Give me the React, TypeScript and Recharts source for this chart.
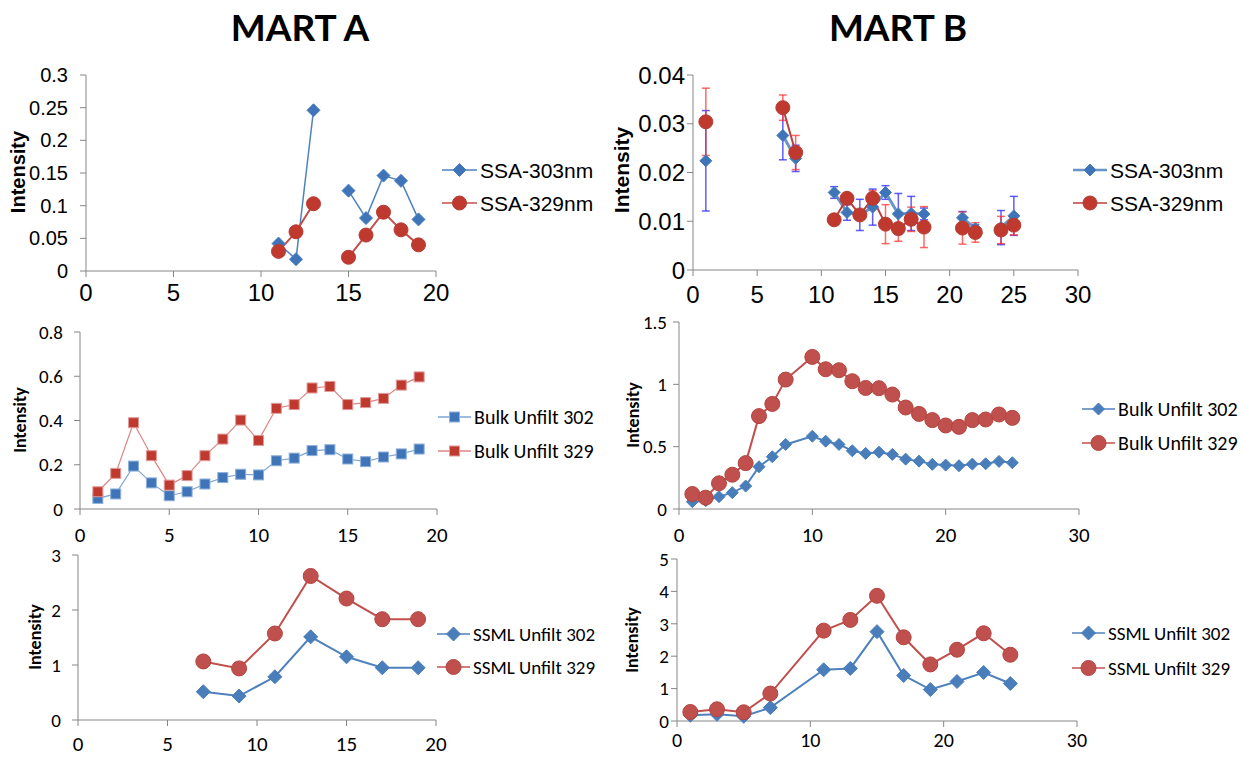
import React from 'react';
import { LineChart, Line, XAxis, YAxis, ErrorBar } from 'recharts';

const BLUE = '#4F81BD';
const RED = '#C0504D';
const AXIS = '#868686';
const ARIAL = '"Liberation Sans", Arial, sans-serif';
const CALI = 'Carlito, Calibri, Lato, sans-serif';

// MART A - SSA (null = gap in the line)
const ssaAX = [11, 12, 13, 14, 15, 16, 17, 18, 19];
const ssaA303 = [0.042, 0.018, 0.246, null, 0.123, 0.081, 0.146, 0.138, 0.079];
const ssaA329 = [0.03, 0.06, 0.103, null, 0.021, 0.055, 0.09, 0.063, 0.04];

// MART B - SSA with error bars
const ssaBX = [1, 4, 7, 8, 9, 11, 12, 13, 14, 15, 16, 17, 18, 19, 21, 22, 23, 24, 25];
const ssaB303 = [0.0224, null, 0.0276, 0.0229, null, 0.0159, 0.0118, 0.0113, 0.0129, 0.0159, 0.0115, 0.0116, 0.0115, null, 0.0107, 0.0085, null, 0.0087, 0.0111];
const ssaB303Err = [0.0103, null, 0.005, 0.0027, null, 0.0012, 0.0016, 0.0032, 0.0037, 0.0014, 0.0042, 0.0035, 0.0012, null, 0.0013, 0.0008, null, 0.0035, 0.004];
const ssaB329 = [0.0304, null, 0.0333, 0.0241, null, 0.0103, 0.0147, 0.0113, 0.0147, 0.0094, 0.0085, 0.0104, 0.0088, null, 0.0086, 0.0077, null, 0.0082, 0.0092];
const ssaB329Err = [0.0069, null, 0.0026, 0.0035, null, 0, 0.0005, 0.0005, 0.0016, 0.004, 0.0026, 0.0025, 0.0042, null, 0.0033, 0.002, null, 0.0028, 0.002];

// MART A - Bulk
const bulkAX = [1, 2, 3, 4, 5, 6, 7, 8, 9, 10, 11, 12, 13, 14, 15, 16, 17, 18, 19];
const bulkA302 = [0.048, 0.068, 0.194, 0.118, 0.06, 0.078, 0.113, 0.142, 0.157, 0.154, 0.218, 0.23, 0.264, 0.268, 0.226, 0.214, 0.235, 0.249, 0.271];
const bulkA329 = [0.078, 0.161, 0.39, 0.241, 0.108, 0.151, 0.241, 0.316, 0.402, 0.31, 0.455, 0.472, 0.547, 0.554, 0.472, 0.481, 0.5, 0.56, 0.597];

// MART B - Bulk
const bulkBX = [1, 2, 3, 4, 5, 6, 7, 8, 10, 11, 12, 13, 14, 15, 16, 17, 18, 19, 20, 21, 22, 23, 24, 25];
const bulkB302 = [0.059, 0.067, 0.099, 0.131, 0.184, 0.339, 0.419, 0.518, 0.584, 0.544, 0.518, 0.467, 0.446, 0.456, 0.438, 0.4, 0.384, 0.358, 0.352, 0.347, 0.36, 0.363, 0.382, 0.371];
const bulkB329 = [0.12, 0.091, 0.206, 0.275, 0.368, 0.745, 0.843, 1.038, 1.22, 1.121, 1.113, 1.025, 0.971, 0.969, 0.918, 0.814, 0.763, 0.713, 0.67, 0.659, 0.713, 0.718, 0.758, 0.731];

// MART A - SSML
const ssmlAX = [7, 9, 11, 13, 15, 17, 19];
const ssmlA302 = [0.514, 0.436, 0.786, 1.512, 1.149, 0.95, 0.95];
const ssmlA329 = [1.065, 0.938, 1.573, 2.619, 2.208, 1.833, 1.833];

// MART B - SSML
const ssmlBX = [1, 3, 5, 7, 11, 13, 15, 17, 19, 21, 23, 25];
const ssmlB302 = [0.176, 0.207, 0.145, 0.413, 1.581, 1.622, 2.758, 1.405, 0.971, 1.219, 1.498, 1.157];
const ssmlB329 = [0.279, 0.362, 0.269, 0.847, 2.789, 3.12, 3.864, 2.583, 1.746, 2.2, 2.707, 2.045];

// axis ticks
const ticksX20 = [0, 5, 10, 15, 20];
const ticksX30 = [0, 5, 10, 15, 20, 25, 30];
const ticksX30b = [0, 10, 20, 30];
const ticksSsaA = [0, 0.05, 0.1, 0.15, 0.2, 0.25, 0.3];
const ticksSsaB = [0, 0.01, 0.02, 0.03, 0.04];
const ticksBulkA = [0, 0.2, 0.4, 0.6, 0.8];
const ticksBulkB = [0, 0.5, 1, 1.5];
const ticksSsmlA = [0, 1, 2, 3];
const ticksSsmlB = [0, 1, 2, 3, 4, 5];

const legendSsa = ['SSA-303nm', 'SSA-329nm'];
const legendBulk = ['Bulk Unfilt 302', 'Bulk Unfilt 329'];
const legendSsml = ['SSML Unfilt 302', 'SSML Unfilt 329'];

type Shape = 'diamond' | 'circle' | 'square';

interface Series {
  key: string;
  errKey?: string;
  errColor?: string;
  lineColor: string;
  lineWidth: number;
  fill: string;
  stroke: string;
  shape: Shape;
  size: number;
}

const Marker = ({ shape, x, y, size, fill, stroke }: any) => {
  if (shape === 'circle') return <circle cx={x} cy={y} r={size} fill={fill} stroke={stroke} strokeWidth={1} />;
  if (shape === 'square')
    return <rect x={x - size} y={y - size} width={size * 2} height={size * 2} fill={fill} stroke={stroke} strokeWidth={1} />;
  return (
    <path d={`M${x},${y - size}L${x + size},${y}L${x},${y + size}L${x - size},${y}Z`} fill={fill} stroke={stroke} strokeWidth={1} />
  );
};

const dotOf = (s: Series) => (p: any) => {
  const { cx, cy, index, value } = p;
  if (cx == null || cy == null || value == null || !isFinite(cy)) return <g key={`${s.key}-${index}`} />;
  return <Marker key={`${s.key}-${index}`} shape={s.shape} x={cx} y={cy} size={s.size} fill={s.fill} stroke={s.stroke} />;
};

interface PanelProps {
  left: number;
  top: number;
  width: number;
  height: number;
  margin: { top: number; right: number; bottom: number; left: number };
  yWidth: number;
  xHeight: number;
  data: any[];
  xMax: number;
  xTicks: number[];
  yTicks: number[];
  font: string;
  xFont: number;
  yFont: number;
  xGap: number;
  yGap: number;
  series: Series[];
}

const Panel = (p: PanelProps) => (
  <div style={{ position: 'absolute', left: p.left, top: p.top }}>
    <LineChart width={p.width} height={p.height} data={p.data} margin={p.margin}>
      <XAxis
        dataKey="x"
        type="number"
        domain={[0, p.xMax]}
        ticks={p.xTicks}
        interval={0}
        height={p.xHeight}
        stroke={AXIS}
        tickSize={6}
        tickMargin={p.xGap}
        tick={{ fill: '#000', fontSize: p.xFont, fontFamily: p.font }}
      />
      <YAxis
        type="number"
        domain={[p.yTicks[0], p.yTicks[p.yTicks.length - 1]]}
        ticks={p.yTicks}
        interval={0}
        width={p.yWidth}
        stroke={AXIS}
        tickSize={6}
        tickMargin={p.yGap}
        tick={{ fill: '#000', fontSize: p.yFont, fontFamily: p.font }}
      />
      {p.series.map((s) => (
        <Line
          key={s.key}
          dataKey={s.key}
          stroke={s.lineColor}
          strokeWidth={s.lineWidth}
          dot={dotOf(s)}
          activeDot={false}
          isAnimationActive={false}
          connectNulls={false}
        >
          {s.errKey ? (
            <ErrorBar dataKey={s.errKey} width={4} strokeWidth={1.5} stroke={s.errColor} direction="y" />
          ) : null}
        </Line>
      ))}
    </LineChart>
  </div>
);

const Legend = ({ x, y, gap, names, series, font, size, lineLen }: any) => (
  <svg style={{ position: 'absolute', left: x, top: y - 20, overflow: 'visible' }} width={180} height={gap + 40}>
    {names.map((n: string, i: number) => {
      const s: Series = series[i];
      const yy = 20 + i * gap;
      return (
        <g key={n}>
          <line x1={0} x2={lineLen} y1={yy} y2={yy} stroke={s.lineColor} strokeWidth={Math.max(1.5, s.lineWidth * 0.8)} />
          <Marker shape={s.shape} x={lineLen / 2} y={yy} size={s.size} fill={s.fill} stroke={s.stroke} />
          <text x={lineLen + 3} y={yy} dominantBaseline="central" fontFamily={font} fontSize={size} fill="#000">
            {n}
          </text>
        </g>
      );
    })}
  </svg>
);

const YTitle = ({ x, y, font, size }: any) => (
  <div
    style={{
      position: 'absolute',
      left: x,
      top: y,
      transform: 'translate(-50%, -50%) rotate(-90deg)',
      fontFamily: font,
      fontWeight: 'bold',
      fontSize: size,
      whiteSpace: 'nowrap',
      lineHeight: 1,
    }}
  >
    Intensity
  </div>
);

const build = (xs: number[], a: (number | null)[], b: (number | null)[], ae?: (number | null)[], be?: (number | null)[]) =>
  xs.map((x, i) => ({ x, a: a[i], b: b[i], ae: ae ? ae[i] : undefined, be: be ? be[i] : undefined }));

const ssaAData = build(ssaAX, ssaA303, ssaA329);
const ssaBData = build(ssaBX, ssaB303, ssaB329, ssaB303Err, ssaB329Err);
const bulkAData = build(bulkAX, bulkA302, bulkA329);
const bulkBData = build(bulkBX, bulkB302, bulkB329);
const ssmlAData = build(ssmlAX, ssmlA302, ssmlA329);
const ssmlBData = build(ssmlBX, ssmlB302, ssmlB329);

const sSsaA: Series[] = [
  { key: 'a', lineColor: BLUE, lineWidth: 1.5, fill: '#3F75B8', stroke: '#4A7EBB', shape: 'diamond', size: 6.5 },
  { key: 'b', lineColor: RED, lineWidth: 2, fill: '#C0392F', stroke: '#B83A35', shape: 'circle', size: 7 },
];
const sSsaB: Series[] = [
  { key: 'a', errKey: 'ae', errColor: 'rgba(40,40,255,0.75)', lineColor: 'rgba(79,129,189,0.85)', lineWidth: 3, fill: '#3F75B8', stroke: '#4A7EBB', shape: 'diamond', size: 6 },
  { key: 'b', errKey: 'be', errColor: 'rgba(255,40,40,0.7)', lineColor: '#B8403C', lineWidth: 2, fill: '#C0392F', stroke: '#B83A35', shape: 'circle', size: 7 },
];
const sBulkA: Series[] = [
  { key: 'a', lineColor: '#7EA4D3', lineWidth: 1.2, fill: '#3F75B8', stroke: '#8DB0DA', shape: 'square', size: 5 },
  { key: 'b', lineColor: '#DC8583', lineWidth: 1.2, fill: '#C0392F', stroke: '#E09A98', shape: 'square', size: 5 },
];
const sBulkB: Series[] = [
  { key: 'a', lineColor: BLUE, lineWidth: 2, fill: '#4A7EBB', stroke: '#4A7EBB', shape: 'diamond', size: 6 },
  { key: 'b', lineColor: RED, lineWidth: 2, fill: '#C0504D', stroke: '#B5443F', shape: 'circle', size: 7.5 },
];
const sSsml: Series[] = [
  { key: 'a', lineColor: BLUE, lineWidth: 2, fill: '#4A7EBB', stroke: '#4A7EBB', shape: 'diamond', size: 7 },
  { key: 'b', lineColor: RED, lineWidth: 2, fill: '#C0504D', stroke: '#B5443F', shape: 'circle', size: 7.5 },
];

const titleStyle: React.CSSProperties = {
  position: 'absolute',
  top: 4,
  fontFamily: 'Lato, sans-serif',
  fontWeight: 'bold',
  fontSize: 37,
  transform: 'translateX(-50%)',
  whiteSpace: 'nowrap',
};

export default function App() {
  return (
    <div style={{ position: 'absolute', left: 0, top: 0, width: 1243, height: 757, background: '#fff', overflow: 'hidden' }}>
      <div style={{ ...titleStyle, left: 300 }}>MART A</div>
      <div style={{ ...titleStyle, left: 898 }}>MART B</div>

      <Panel left={0} top={60} width={470} height={250} margin={{ top: 15, right: 34, bottom: 9, left: 26 }}
        yWidth={60} xHeight={30} data={ssaAData} xMax={20} xTicks={ticksX20} yTicks={ticksSsaA}
        font={ARIAL} xFont={24} yFont={20} xGap={7} yGap={12} series={sSsaA} />
      <YTitle x={18} y={172} font={ARIAL} size={20} />
      <Legend x={442} y={170} gap={33} names={legendSsa} series={sSsaA} font={ARIAL} size={21} lineLen={35} />

      <Panel left={600} top={60} width={510} height={250} margin={{ top: 15, right: 32, bottom: 10, left: 20 }}
        yWidth={73} xHeight={30} data={ssaBData} xMax={30} xTicks={ticksX30} yTicks={ticksSsaB}
        font={ARIAL} xFont={24} yFont={24} xGap={10} yGap={2} series={sSsaB} />
      <YTitle x={621} y={170} font={ARIAL} size={21} />
      <Legend x={1073} y={170} gap={33} names={legendSsa} series={sSsaB} font={ARIAL} size={21} lineLen={34} />

      <Panel left={0} top={310} width={470} height={240} margin={{ top: 22, right: 33, bottom: 6, left: 20 }}
        yWidth={60} xHeight={35} data={bulkAData} xMax={20} xTicks={ticksX20} yTicks={ticksBulkA}
        font={CALI} xFont={21} yFont={19} xGap={12} yGap={11} series={sBulkA} />
      <YTitle x={20} y={420} font={CALI} size={18} />
      <Legend x={438} y={417} gap={34} names={legendBulk} series={sBulkA} font={CALI} size={20} lineLen={33} />

      <Panel left={600} top={310} width={510} height={240} margin={{ top: 12, right: 31, bottom: 6, left: 20 }}
        yWidth={59} xHeight={35} data={bulkBData} xMax={30} xTicks={ticksX30b} yTicks={ticksBulkB}
        font={CALI} xFont={21} yFont={19} xGap={12} yGap={6} series={sBulkB} />
      <YTitle x={633} y={415} font={CALI} size={18} />
      <Legend x={1082} y={409} gap={34} names={legendBulk} series={sBulkB} font={CALI} size={20} lineLen={33} />

      <Panel left={0} top={530} width={470} height={227} margin={{ top: 25, right: 34, bottom: 7, left: 18 }}
        yWidth={60} xHeight={30} data={ssmlAData} xMax={20} xTicks={ticksX20} yTicks={ticksSsmlA}
        font={CALI} xFont={21} yFont={19} xGap={10} yGap={11} series={sSsml} />
      <YTitle x={35} y={637} font={CALI} size={18} />
      <Legend x={437} y={634} gap={33} names={legendSsml} series={sSsml} font={CALI} size={19} lineLen={33} />

      <Panel left={600} top={530} width={510} height={227} margin={{ top: 29, right: 33, bottom: 6, left: 17 }}
        yWidth={60} xHeight={30} data={ssmlBData} xMax={30} xTicks={ticksX30b} yTicks={ticksSsmlB}
        font={CALI} xFont={20} yFont={19} xGap={6} yGap={2} series={sSsml} />
      <YTitle x={632} y={640} font={CALI} size={18} />
      <Legend x={1072} y={633} gap={35} names={legendSsml} series={sSsml} font={CALI} size={19} lineLen={33} />
    </div>
  );
}
